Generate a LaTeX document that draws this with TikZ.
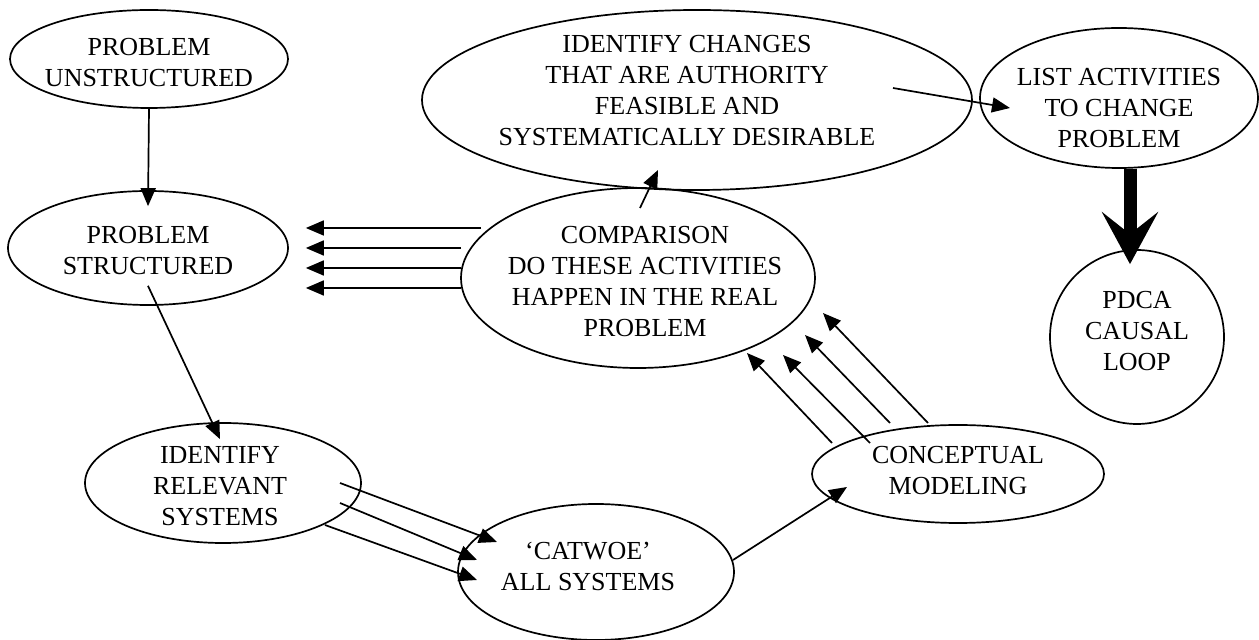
\documentclass[tikz,border=0pt]{standalone}
\usepackage{fontspec}
\setmainfont{Liberation Serif}
\usepackage{tikz}
\usetikzlibrary{arrows.meta}
\usetikzlibrary{shapes.geometric}
\usetikzlibrary{calc}

\begin{document}
\begin{tikzpicture}[x=0.5pt, y=-0.5pt, line width=0.85pt,
	>={Triangle[length=9pt, width=7.5pt]},
	stage/.style={draw, ellipse, inner sep=0pt},
	words/.style={align=center, inner sep=0pt, font=\fontsize{13}{15.5}\selectfont}]
	\useasboundingbox (0,0) rectangle (1259,640);

	\node[stage, minimum width=139pt, minimum height=49pt,
		label={[words, yshift=-2pt]center:PROBLEM\\UNSTRUCTURED}] (pu) at (149,59) {};
	\node[stage, minimum width=140pt, minimum height=57pt,
		label={[words, yshift=-1.5pt]center:PROBLEM\\STRUCTURED}] (ps) at (148,248) {};
	\node[stage, minimum width=138pt, minimum height=60pt,
		label={[words, xshift=-1.5pt, yshift=-1.5pt]center:IDENTIFY\\RELEVANT\\SYSTEMS}] (irs) at (223,483) {};
	\node[stage, minimum width=138pt, minimum height=68pt,
		label={[words, xshift=-4pt, yshift=3pt]center:`CATWOE'\\ALL SYSTEMS}] (cw) at (596,572) {};
	\node[stage, minimum width=146pt, minimum height=49pt,
		label={[words, yshift=1.5pt]center:CONCEPTUAL\\MODELING}] (cm) at (958,474) {};
	\node[stage, minimum width=177pt, minimum height=90pt,
		label={[words, xshift=3.5pt, yshift=-2pt]center:COMPARISON\\DO THESE ACTIVITIES\\HAPPEN IN THE REAL\\PROBLEM}] (cmp) at (638,278) {};
	\node[stage, minimum width=275pt, minimum height=90pt,
		label={[words, xshift=-5pt, yshift=4.5pt]center:IDENTIFY CHANGES\\THAT ARE AUTHORITY\\FEASIBLE AND\\SYSTEMATICALLY DESIRABLE}] (ic) at (697,100) {};
	\node[stage, minimum width=139pt, minimum height=70pt,
		label={[words, yshift=-5pt]center:LIST ACTIVITIES\\TO CHANGE\\PROBLEM}] (la) at (1119,98) {};
	\node[stage, circle, minimum size=87pt,
		label={[words, yshift=3pt]center:PDCA\\CAUSAL\\LOOP}] (pdca) at (1137,337) {};

	\draw[->] (pu.south) -- ($(ps.north)+(0,16)$);
	\draw[->] ($(ps.south)+(0,-20)$) -- ($(irs.north)+(-3,17)$);

	\draw[->] ($(irs)+(117,0)$) -- ($(cw)+(-99,-30)$);
	\draw[->] ($(irs)+(117,20)$) -- ($(cw)+(-119,-12)$);
	\draw[->] ($(irs)+(102,42)$) -- ($(cw)+(-119,8)$);

	\draw[->] ($(cw)+(137,-12)$) -- ($(cm)+(-111,13)$);

	\foreach \a/\b/\c/\d in {-126/-31/109/75, -88/-31/145/77, -68/-51/167/57, -30/-51/185/35}
		\draw[->] ($(cm)+(\a,\b)$) -- ($(cmp)+(\c,\d)$);

	\foreach \s/\dy in {21/-50, 1/-30, 1/-10, 1/10}
		\draw[->] ($(cmp.west)+(\s,\dy)$) -- ($(ps.east)+(17,\dy+30)$);

	\draw[->] ($(cmp)+(2,-70)$) -- ($(ic)+(-39,70)$);
	\draw[->] ($(ic)+(196,-12)$) -- ($(la)+(-109,10)$);

	\draw[line width=6.5pt, -{Stealth[length=26pt, width=28pt, inset=11pt]}]
		($(la.south)+(11,0)$) -- ($(pdca.north)+(-7,15)$);

\end{tikzpicture}
\end{document}
